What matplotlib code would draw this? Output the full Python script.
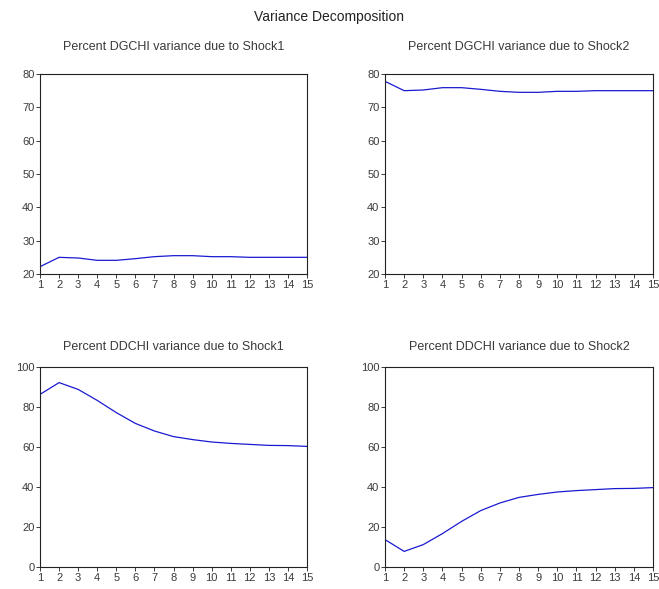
import matplotlib
matplotlib.use("Agg")
import matplotlib.pyplot as plt

plt.rcParams['font.family'] = ['Liberation Sans', 'DejaVu Sans']

periods = list(range(1, 16))

# DGCHI decomposition
dgchi_shock1 = [22.2, 25.0, 24.8, 24.1, 24.1, 24.6, 25.2, 25.5, 25.5, 25.2, 25.2, 25.0, 25.0, 25.0, 25.0]
dgchi_shock2 = [77.8, 75.0, 75.2, 75.9, 75.9, 75.4, 74.8, 74.5, 74.5, 74.8, 74.8, 75.0, 75.0, 75.0, 75.0]

# DDCHI decomposition
ddchi_shock1 = [86.3, 92.2, 88.8, 83.3, 77.2, 71.8, 68.0, 65.2, 63.7, 62.5, 61.8, 61.3, 60.8, 60.7, 60.3]
ddchi_shock2 = [13.7, 7.8, 11.2, 16.7, 22.8, 28.2, 32.0, 34.8, 36.3, 37.5, 38.2, 38.7, 39.2, 39.3, 39.7]

titles = [
    "Percent DGCHI variance due to Shock1",
    "Percent DGCHI variance due to Shock2",
    "Percent DDCHI variance due to Shock1",
    "Percent DDCHI variance due to Shock2",
]
series = [dgchi_shock1, dgchi_shock2, ddchi_shock1, ddchi_shock2]
ylims = [(20, 80), (20, 80), (0, 100), (0, 100)]
yticks = [range(20, 81, 10), range(20, 81, 10), range(0, 101, 20), range(0, 101, 20)]

W, H = 659, 589
fig = plt.figure(figsize=(W / 100, H / 100), dpi=100)

# axes boxes in pixels: left, top, right, bottom, title y
boxes = [
    (40, 74, 307, 274, 47),
    (385, 74, 653, 274, 47),
    (40, 367, 307, 567, 347),
    (385, 367, 653, 567, 347),
]

text_col = "#3a3a3a"
for box, title, vals, yl, yt in zip(boxes, titles, series, ylims, yticks):
    l, t, r, b, ty = box
    ax = fig.add_axes([l / W, 1 - b / H, (r - l) / W, (b - t) / H])
    ax.plot(periods, vals, color="#1a1ad0", lw=0.9)
    ax.set_xlim(1, 15)
    ax.set_ylim(*yl)
    ax.set_xticks(periods)
    ax.set_yticks(list(yt))
    ax.tick_params(labelsize=8, length=3, width=0.7, pad=1, colors=text_col)
    for s in ax.spines.values():
        s.set_linewidth(0.8)
        s.set_color("#222222")
    fig.text((l + r) / 2 / W, 1 - ty / H, title, fontsize=9, color=text_col,
             ha="center", va="center")

fig.text(329 / W, 1 - 17 / H, "Variance Decomposition", fontsize=10,
         ha="center", va="center", color="#222222")

fig.savefig("out.png", dpi=100)
